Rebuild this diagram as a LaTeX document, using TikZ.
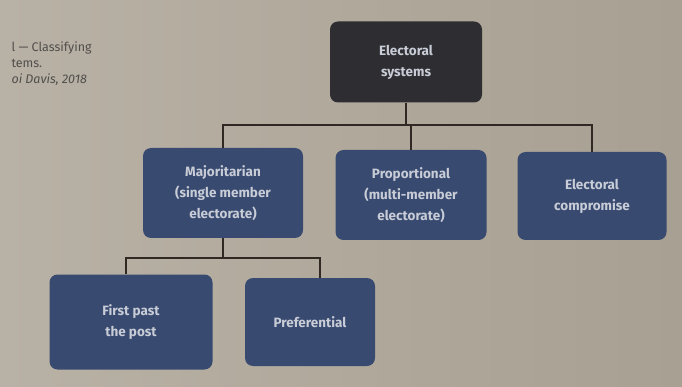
\documentclass[tikz,border=0pt]{standalone}
\usepackage{fontspec}
\setmainfont{Fira Sans}
\usepackage{xcolor}
\usetikzlibrary{positioning}
\definecolor{pageL}{RGB}{184,177,165}
\definecolor{pageR}{RGB}{168,160,146}
\definecolor{boxblue}{RGB}{56,74,112}
\definecolor{boxdark}{RGB}{46,46,50}
\definecolor{boxtext}{RGB}{200,204,214}
\definecolor{linecol}{RGB}{48,40,34}
\definecolor{captext}{RGB}{80,78,76}

\begin{document}
\begin{tikzpicture}[x=1pt,y=-1pt,
		box/.style={fill=boxblue,rounded corners=8pt,text=boxtext,align=center,
			font=\bfseries\fontsize{13.5}{21}\selectfont,inner sep=0pt},
		topbox/.style={box,fill=boxdark},
		link/.style={draw=linecol,line width=1.8pt}]
		\shade[left color=pageL,right color=pageR] (0,0) rectangle (682,387);
		\node[anchor=north west,align=left,text=captext,font=\fontsize{12.5}{16}\selectfont] (caption) at (8,38) {l --- Classifying\\tems.\\\textit{oi Davis, 2018}};
		\node[topbox,minimum width=152pt,minimum height=81pt] (top) at (406,62) {Electoral\\systems};
		\node[box,minimum width=160pt,minimum height=90pt] (maj) at (223,193) {Majoritarian\\(single member\\electorate)};
		\node[box,minimum width=151pt,minimum height=90pt] (prop) at (411,195) {Proportional\\(multi-member\\electorate)};
		\node[box,minimum width=149pt,minimum height=88pt] (comp) at (592,196) {Electoral\\compromise};
		\node[box,minimum width=163pt,minimum height=95pt] (fptp) at (131,322) {First past\\the post};
		\node[box,minimum width=130pt,minimum height=88pt] (pref) at (310,322) {Preferential};
		% upper bar
		\coordinate (bar1) at (406,125);
		\draw[link] (top.south) -- (bar1);
		\draw[link] (maj.north) |- (bar1) -| (comp.north);
		\draw[link] (prop.north) -- (prop.north |- bar1);
		% lower bar
		\coordinate (bar2) at (223,258);
		\draw[link] (maj.south) -- (bar2);
		\draw[link] ([xshift=-5pt]fptp.north) |- (bar2) -| ([xshift=10pt]pref.north);
	\end{tikzpicture}
\end{document}
